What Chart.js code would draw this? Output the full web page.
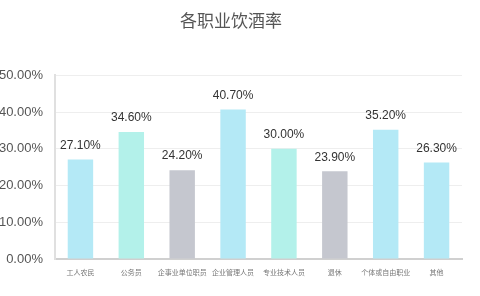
<!DOCTYPE html>
<html>
<head>
<meta charset="utf-8">
<script src="https://cdn.jsdelivr.net/npm/chart.js@4/dist/chart.umd.min.js"></script>
<style>
  html, body { margin: 0; padding: 0; background: #fff; }
  #wrap { width: 480px; height: 296px; }
</style>
</head>
<body>
<div id="wrap"><canvas id="chart" width="480" height="296"></canvas></div>
<script>
const categories = ["工人农民", "公务员", "企事业单位职员", "企业管理人员", "专业技术人员", "退休", "个体或自由职业", "其他"];
const drinkRates = [27.1, 34.6, 24.2, 40.7, 30.0, 23.9, 35.2, 26.3];
const barColors = ["#b4e9f6", "#b3f1ea", "#c5c7cf", "#b4e9f6", "#b3f1ea", "#c5c7cf", "#b4e9f6", "#b4e9f6"];
const yTicks = [0, 10, 20, 30, 40, 50];

const FONT = "'Liberation Sans', 'Noto Sans CJK SC', sans-serif";

// draws the value above each bar
const valueLabels = {
  id: "valueLabels",
  afterDatasetsDraw(chart) {
    const ctx = chart.ctx;
    const meta = chart.getDatasetMeta(0);
    ctx.save();
    ctx.font = "12px " + FONT;
    ctx.fillStyle = "#333";
    ctx.textAlign = "center";
    ctx.textBaseline = "bottom";
    meta.data.forEach((bar, i) => {
      ctx.fillText(drinkRates[i].toFixed(2) + "%", bar.x, bar.y - 8);
    });
    ctx.restore();
  }
};

new Chart(document.getElementById("chart"), {
  type: "bar",
  data: {
    labels: categories,
    datasets: [{
      data: drinkRates,
      backgroundColor: barColors,
      barPercentage: 0.5,
      categoryPercentage: 1
    }]
  },
  plugins: [valueLabels],
  options: {
    responsive: false,
    animation: false,
    layout: { padding: { top: 0, right: 18, bottom: 0, left: 0 } },
    plugins: {
      legend: { display: false },
      tooltip: { enabled: false },
      title: {
        display: true,
        text: "各职业饮酒率",
        color: "#555",
        font: { size: 17, family: FONT, weight: "normal" },
        padding: { top: 12, bottom: 43 }
      }
    },
    scales: {
      x: {
        grid: { display: false, drawTicks: false },
        border: { color: "#d0d0d0", width: 2 },
        ticks: {
          color: "#777",
          font: { size: 7, family: FONT },
          maxRotation: 0,
          autoSkip: false,
          padding: 10
        },
        afterFit(scale) { scale.height = 37; }
      },
      y: {
        min: 0,
        max: 50,
        afterBuildTicks(scale) { scale.ticks = yTicks.map((v) => ({ value: v })); },
        grid: { color: "#eeeeee", drawTicks: false },
        border: { color: "#e0e0e0", width: 2 },
        ticks: {
          color: "#555",
          font: { size: 13, family: FONT },
          padding: 12,
          callback: (v) => v.toFixed(2) + "%"
        },
        afterFit(scale) { scale.width = 55; }
      }
    }
  }
});
</script>
</body>
</html>
